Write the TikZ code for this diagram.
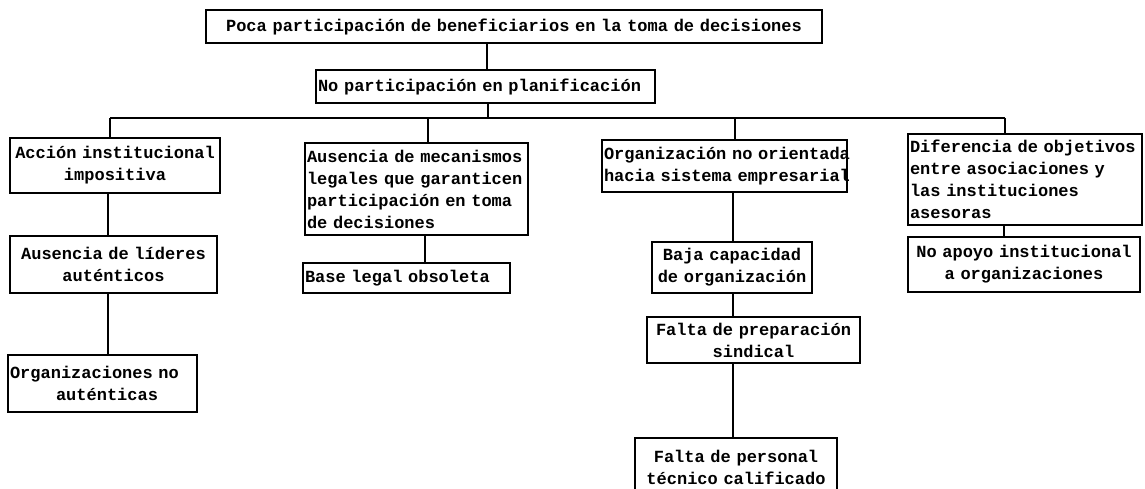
\documentclass[tikz,border=0pt]{standalone}
\usepackage{fontspec}
\newfontfamily\twfont{Liberation Mono}[WordSpace={1,0,0}]
\hyphenpenalty=10000
\exhyphenpenalty=10000
\tikzset{
  box/.style={draw, line width=2.2pt, inner xsep=2pt, inner ysep=1pt, outer sep=0pt,
    font=\fontsize{17}{22}\selectfont\twfont\bfseries},
  conn/.style={line width=2.2pt}
}
\newcommand\mybox[7]{%
  \pgfmathsetmacro\mytw{#4-#2-4}%
  \node[box,align=#6,text width=\mytw pt,minimum width={(#4-#2)*1pt},
        minimum height={(#5-#3)*1pt},anchor=north west] (#1) at (#2,#3) {#7};}
\begin{document}
\begin{tikzpicture}[x=1pt,y=-1pt]
\useasboundingbox (0,0) rectangle (1145,489);
\clip (0,0) rectangle (1145,489);
% boxes
\mybox{top}{206}{10}{822}{43}{center}{Poca participación de beneficiarios en la toma de decisiones}
\mybox{plan}{316}{70}{655}{103}{left}{No participación en planificación}
\mybox{a1}{10}{138}{220}{193}{center}{Acción institucional\\impositiva}
\mybox{a2}{10}{236}{217}{293}{center}{Ausencia de líderes\\auténticos}
\mybox{a3}{8}{355}{197}{412}{left}{Organizaciones no\\\hspace*{46pt}auténticas}
\mybox{b1}{305}{143}{528}{235}{left}{Ausencia de mecanismos\\legales que garanticen\\participación en toma\\de decisiones}
\mybox{b2}{303}{263}{510}{293}{left}{Base legal obsoleta}
\mybox{c1}{602}{140}{847}{192}{left}{\mbox{Organización no orientada}\\\mbox{hacia sistema empresarial}}
\mybox{c2}{652}{242}{812}{293}{center}{Baja capacidad\\de organización}
\mybox{c3}{647}{317}{860}{363}{center}{Falta de preparación\\sindical}
\mybox{c4}{635}{438}{837}{496}{center}{Falta de personal\\técnico calificado}
\mybox{d1}{908}{134}{1142}{225}{left}{Diferencia de objetivos\\entre asociaciones y\\las instituciones\\asesoras}
\mybox{d2}{908}{237}{1140}{292}{center}{No apoyo institucional\\a organizaciones}
% connector x positions
\coordinate (xt) at (487,0);
\coordinate (xp) at (488,0);
\coordinate (busL) at (110,118);
\coordinate (busR) at (1005,118);
\coordinate (xa) at (110,0);
\coordinate (xa2) at (108,0);
\coordinate (xb) at (428,0);
\coordinate (xb2) at (425,0);
\coordinate (xc) at (735,0);
\coordinate (xc2) at (733,0);
\coordinate (xd) at (1005,0);
\coordinate (xd2) at (1004,0);
% connectors
\draw[conn] (top.south -| xt) -- (plan.north -| xt);
\draw[conn] (plan.south -| xp) -- (xp |- busL);
\draw[conn] (busL) -- (busR);
\draw[conn] (busL) -- (a1.north -| xa);
\draw[conn] (xb |- busL) -- (b1.north -| xb);
\draw[conn] (xc |- busL) -- (c1.north -| xc);
\draw[conn] (busR) -- (d1.north -| xd);
\draw[conn] (a1.south -| xa2) -- (a2.north -| xa2);
\draw[conn] (a2.south -| xa2) -- (a3.north -| xa2);
\draw[conn] (b1.south -| xb2) -- (b2.north -| xb2);
\draw[conn] (c1.south -| xc2) -- (c2.north -| xc2);
\draw[conn] (c2.south -| xc2) -- (c3.north -| xc2);
\draw[conn] (c3.south -| xc2) -- (c4.north -| xc2);
\draw[conn] (d1.south -| xd2) -- (d2.north -| xd2);
\end{tikzpicture}
\end{document}
